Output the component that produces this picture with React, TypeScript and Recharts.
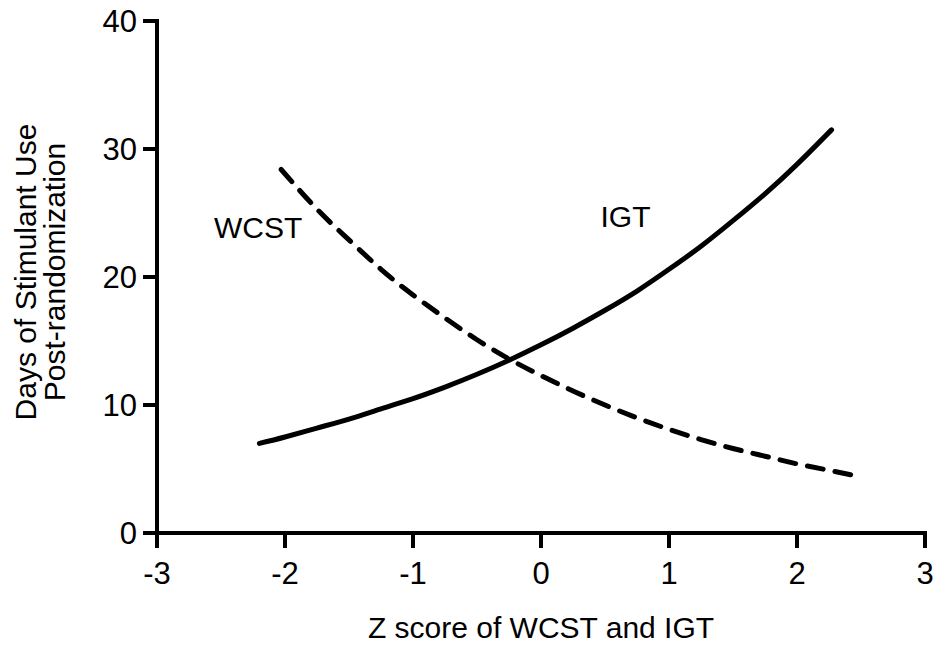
import React from 'react';
import { LineChart, Line, XAxis, YAxis, Label, ReferenceDot } from 'recharts';

// IGT curve (solid)
const igtZ = [-2.2, -2, -1.75, -1.5, -1.25, -1, -0.75, -0.5, -0.25, 0, 0.25, 0.5, 0.75, 1, 1.25, 1.5, 1.75, 2, 2.27];
const igtDays = [7.0, 7.5, 8.2, 8.9, 9.7, 10.5, 11.4, 12.4, 13.5, 14.7, 16.0, 17.4, 18.9, 20.6, 22.4, 24.4, 26.5, 28.8, 31.5];

// WCST curve (dashed)
const wcstZ = [-2.03, -1.75, -1.5, -1.25, -1, -0.75, -0.5, -0.25, 0, 0.25, 0.5, 0.75, 1, 1.25, 1.5, 1.75, 2, 2.25, 2.49];
const wcstDays = [28.4, 25.3, 22.9, 20.6, 18.6, 16.8, 15.1, 13.6, 12.3, 11.1, 10.0, 9.0, 8.1, 7.3, 6.6, 6.0, 5.4, 4.9, 4.4];

const xTicks = [-3, -2, -1, 0, 1, 2, 3];
const yTicks = [0, 10, 20, 30, 40];

const yTitle = ['Days of Stimulant Use', 'Post-randomization'];
const xTitle = 'Z score of WCST and IGT';

const FONT = '"Liberation Sans", Arial, Helvetica, sans-serif';

const igtData = igtZ.map((z, i) => ({ z, days: igtDays[i] }));
const wcstData = wcstZ.map((z, i) => ({ z, days: wcstDays[i] }));

const axisStyle = { stroke: '#000', strokeWidth: 4, strokeLinecap: 'square' as const };
const tickStyle = { fill: '#000', fontSize: 31, fontFamily: FONT };

const YTitle = (props: any) => {
  const vb = props.viewBox || {};
  const cy = vb.y + vb.height / 2 - 5;
  const xs = [36, 65];
  return (
    <g>
      {yTitle.map((t, i) => (
        <text
          key={t}
          x={xs[i]}
          y={cy}
          textAnchor="middle"
          transform={`rotate(-90, ${xs[i]}, ${cy})`}
          fontSize={30}
          fontFamily={FONT}
          fill="#000"
        >
          {t}
        </text>
      ))}
    </g>
  );
};

export default function App() {
  return (
    <div style={{ position: 'absolute', left: 0, top: 0, width: 941, height: 645, background: '#fff' }}>
      <LineChart width={941} height={645} margin={{ top: 21, right: 16, left: 57, bottom: 0 }}>
        <XAxis
          type="number"
          dataKey="z"
          domain={[-3, 3]}
          ticks={xTicks}
          height={112}
          axisLine={axisStyle}
          tickLine={{ stroke: '#000', strokeWidth: 4 }}
          tickSize={15}
          tickMargin={14}
          tick={tickStyle}
        >
          <Label
            value={xTitle}
            position="insideBottom"
            offset={7}
            style={{ fontSize: 30, fontFamily: FONT, fill: '#000' }}
          />
        </XAxis>
        <YAxis
          type="number"
          domain={[0, 40]}
          ticks={yTicks}
          width={100}
          axisLine={axisStyle}
          tickLine={{ stroke: '#000', strokeWidth: 4 }}
          tickSize={14}
          tickMargin={6}
          tick={tickStyle}
        >
          <Label content={(p: any) => <YTitle {...p} />} />
        </YAxis>
        <Line
          data={igtData}
          dataKey="days"
          type="natural"
          stroke="#000"
          strokeWidth={5}
          strokeLinecap="round"
          dot={false}
          activeDot={false}
          isAnimationActive={false}
        />
        <Line
          data={wcstData}
          dataKey="days"
          type="natural"
          stroke="#000"
          strokeWidth={5}
          strokeLinecap="round"
          strokeDasharray="16 12"
          dot={false}
          activeDot={false}
          isAnimationActive={false}
        />
        <ReferenceDot x={-2.21} y={23.9} r={0} stroke="none" fill="none">
          <Label value="WCST" position="center" style={{ fontSize: 30, fontFamily: FONT, fill: '#000' }} />
        </ReferenceDot>
        <ReferenceDot x={0.66} y={24.7} r={0} stroke="none" fill="none">
          <Label value="IGT" position="center" style={{ fontSize: 30, fontFamily: FONT, fill: '#000' }} />
        </ReferenceDot>
      </LineChart>
    </div>
  );
}
